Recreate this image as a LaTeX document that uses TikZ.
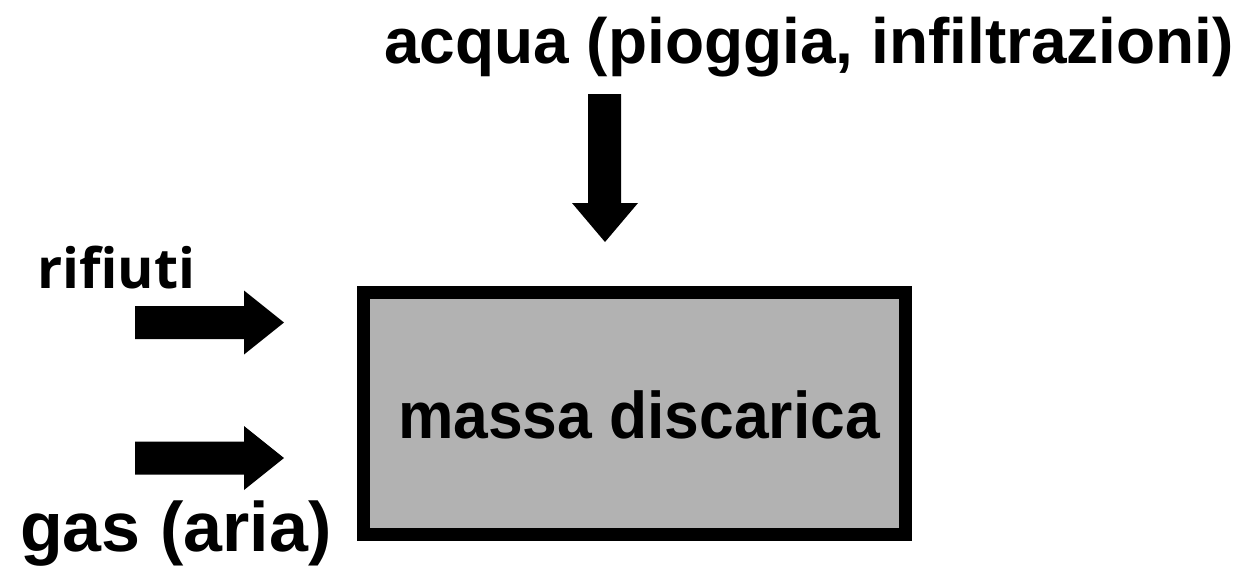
\documentclass[tikz,border=0pt]{standalone}
\usepackage{fontspec}
\setmainfont{Liberation Sans}
\newfontfamily\rifont{Open Sans}
\usepackage{graphicx}
\begin{document}
\begin{tikzpicture}[x=1pt,y=-1pt,
  lbl/.style={inner sep=0pt,font=\bfseries},
  fatarrow/.style={fill=black,draw=none}]
\useasboundingbox (0,0) rectangle (1236,568);
\node[draw=black,line width=13pt,fill=black!30,minimum width=542pt,minimum height=242pt,inner sep=0pt] (box) at (634.5,413.5) {};
\node[lbl,anchor=base] (mtext) at (639,438) {\scalebox{0.945}[1]{\fontsize{66}{70}\selectfont massa discarica}};
\node[lbl,anchor=base west] (acqua) at (384,63) {\fontsize{64}{68}\selectfont acqua (pioggia, infiltrazioni)};
\node[lbl,anchor=base west] (rif) at (37,288) {\rifont\fontsize{55.5}{60}\selectfont rifiuti};
\node[lbl,anchor=base west] (gas) at (20,551) {\fontsize{70}{74}\selectfont gas (aria)};
% down arrow
\coordinate (dtip) at (605,242);
\fill[fatarrow] (588,94) -- (621,94) -- (621,203) -- (638,203) -- (dtip) -- (572,203) -- (588,203) -- cycle;
% right arrows
\coordinate (rtip1) at (284,322.5);
\coordinate (rtip2) at (284,458);
\fill[fatarrow] (135,306) -- (244,306) -- (244,290.5) -- (rtip1) -- (244,354.5) -- (244,339) -- (135,339) -- cycle;
\fill[fatarrow] (135,441.5) -- (244,441.5) -- (244,426) -- (rtip2) -- (244,490) -- (244,474.5) -- (135,474.5) -- cycle;
\end{tikzpicture}
\end{document}
